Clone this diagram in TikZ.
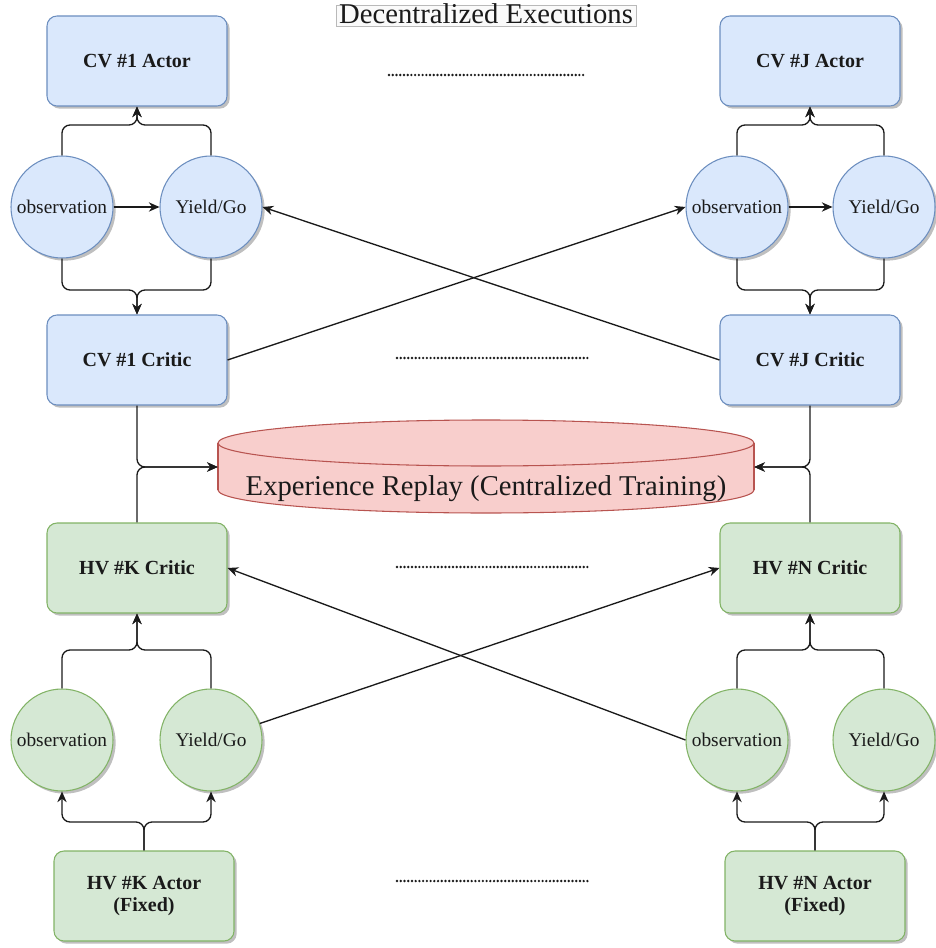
\documentclass[tikz,border=0pt]{standalone}
\usepackage{fontspec}
\setmainfont{Liberation Serif}
\usetikzlibrary{arrows.meta,shadows}

\definecolor{bluefill}{HTML}{DAE8FC}
\definecolor{bluedraw}{HTML}{6C8EBF}
\definecolor{greenfill}{HTML}{D5E8D4}
\definecolor{greendraw}{HTML}{82B366}
\definecolor{redfill}{HTML}{F8CECC}
\definecolor{reddraw}{HTML}{B85450}
\definecolor{ink}{HTML}{1A1A1A}

\tikzset{
  softshadow/.style={drop shadow={shadow xshift=2pt, shadow yshift=-2pt, opacity=0.25, fill=black}},
  box/.style={rectangle, rounded corners=7.5pt, minimum width=135pt, minimum height=67.5pt,
    line width=0.8pt, align=center, text=ink,
    font=\fontsize{15}{17}\selectfont\bfseries, softshadow},
  cvbox/.style={box, fill=bluefill, draw=bluedraw},
  hvbox/.style={box, fill=greenfill, draw=greendraw},
  state/.style={circle, minimum size=76.5pt, inner sep=0pt, line width=0.8pt, text=ink,
    font=\fontsize{14.5}{16}\selectfont, softshadow},
  cvstate/.style={state, fill=bluefill, draw=bluedraw},
  hvstate/.style={state, fill=greenfill, draw=greendraw},
  link/.style={draw=ink, line width=1pt, -{Stealth[length=8pt,width=7pt]}},
  elbow/.style={link, rounded corners=6pt},
  dotrow/.style={draw=ink, line width=2pt, line cap=round, dash pattern=on 0pt off 2.8pt},
}

\begin{document}
\begin{tikzpicture}[x=0.75pt, y=-0.75pt]
\useasboundingbox (0,0) rectangle (935,948);

% ---------- title ----------
\draw[draw=gray!55, fill=gray!4, line width=0.6pt] (336,5) rectangle (636,26);
\node[inner sep=0pt, text=ink, font=\fontsize{21.5}{24}\selectfont] (title) at (486,14) {Decentralized Executions};

% ---------- connected vehicles ----------
\node[cvbox] (a1) at (137,61)  {CV \#1 Actor};
\node[cvbox] (aJ) at (810,61)  {CV \#J Actor};
\node[cvstate] (o1) at (62,207)  {observation};
\node[cvstate] (y1) at (211,207) {Yield/Go};
\node[cvstate] (oJ) at (737,207) {observation};
\node[cvstate] (yJ) at (884,207) {Yield/Go};
\node[cvbox] (c1) at (137,360) {CV \#1 Critic};
\node[cvbox] (cJ) at (810,360) {CV \#J Critic};

% ---------- experience replay cylinder ----------
\filldraw[fill=redfill, draw=reddraw, line width=0.8pt] (486,490) ellipse [x radius=201pt, y radius=17.25pt];
\fill[redfill] (218,443) rectangle (754,490);
\draw[draw=reddraw, line width=0.8pt] (218,443) -- (218,490) (754,443) -- (754,490);
\filldraw[fill=redfill, draw=reddraw, line width=0.8pt] (486,443) ellipse [x radius=201pt, y radius=17.25pt];
\node[minimum width=402pt, minimum height=50pt, inner sep=0pt] (er) at (486,467) {};
\node[inner sep=0pt, text=ink, font=\fontsize{21.5}{24}\selectfont] (erlabel) at (486,489) {Experience Replay (Centralized Training)};

% ---------- human-driven vehicles ----------
\node[hvbox] (k1) at (137,568) {HV \#K Critic};
\node[hvbox] (kN) at (810,568) {HV \#N Critic};
\node[hvstate] (ho1) at (62,740)  {observation};
\node[hvstate] (hy1) at (211,740) {Yield/Go};
\node[hvstate] (hoN) at (737,740) {observation};
\node[hvstate] (hyN) at (884,740) {Yield/Go};
\node[hvbox] (ka) at (144,896) {HV \#K Actor\\(Fixed)};
\node[hvbox] (na) at (815,896) {HV \#N Actor\\(Fixed)};

% ---------- junction points of the merged edges ----------
\coordinate (j1u) at (137,125);
\coordinate (jJu) at (810,125);
\coordinate (j1d) at (137,290);
\coordinate (jJd) at (810,290);
\coordinate (jk)  at (137,650);
\coordinate (jn)  at (810,650);
\coordinate (jka) at (144,822);
\coordinate (jna) at (815,822);

% CV #1 local edges
\draw[link] (o1) -- (y1);
\draw[elbow] (o1.north) |- (j1u) -- (a1.south);
\draw[elbow] (y1.north) |- (j1u) -- (a1.south);
\draw[elbow] (o1.south) |- (j1d) -- (c1.north);
\draw[elbow] (y1.south) |- (j1d) -- (c1.north);

% CV #J local edges
\draw[link] (oJ) -- (yJ);
\draw[elbow] (oJ.north) |- (jJu) -- (aJ.south);
\draw[elbow] (yJ.north) |- (jJu) -- (aJ.south);
\draw[elbow] (oJ.south) |- (jJd) -- (cJ.north);
\draw[elbow] (yJ.south) |- (jJd) -- (cJ.north);

% critics feeding the replay buffer
\draw[elbow] (c1.south) |- (er.west);
\draw[elbow] (k1.north) |- (er.west);
\draw[elbow] (cJ.south) |- (er.east);
\draw[elbow] (kN.north) |- (er.east);

% HV #K local edges
\draw[elbow] (ho1.north) |- (jk) -- (k1.south);
\draw[elbow] (hy1.north) |- (jk) -- (k1.south);
\draw[elbow] (ka.north) -- (jka) -| (ho1.south);
\draw[elbow] (ka.north) -- (jka) -| (hy1.south);

% HV #N local edges
\draw[elbow] (hoN.north) |- (jn) -- (kN.south);
\draw[elbow] (hyN.north) |- (jn) -- (kN.south);
\draw[elbow] (na.north) -- (jna) -| (hoN.south);
\draw[elbow] (na.north) -- (jna) -| (hyN.south);

% crossing edges between agents
\draw[link] (c1.east) -- (oJ.west);
\draw[link] (cJ.west) -- (y1.east);
\draw[link] (hy1) -- (kN.west);
\draw[link] (hoN.west) -- (k1.east);

% ellipsis rows
\draw[dotrow] (389,75) -- (585,75);
\draw[dotrow] (397,358) -- (590,358);
\draw[dotrow] (397,567) -- (590,567);
\draw[dotrow] (397,881) -- (590,881);
\end{tikzpicture}
\end{document}
